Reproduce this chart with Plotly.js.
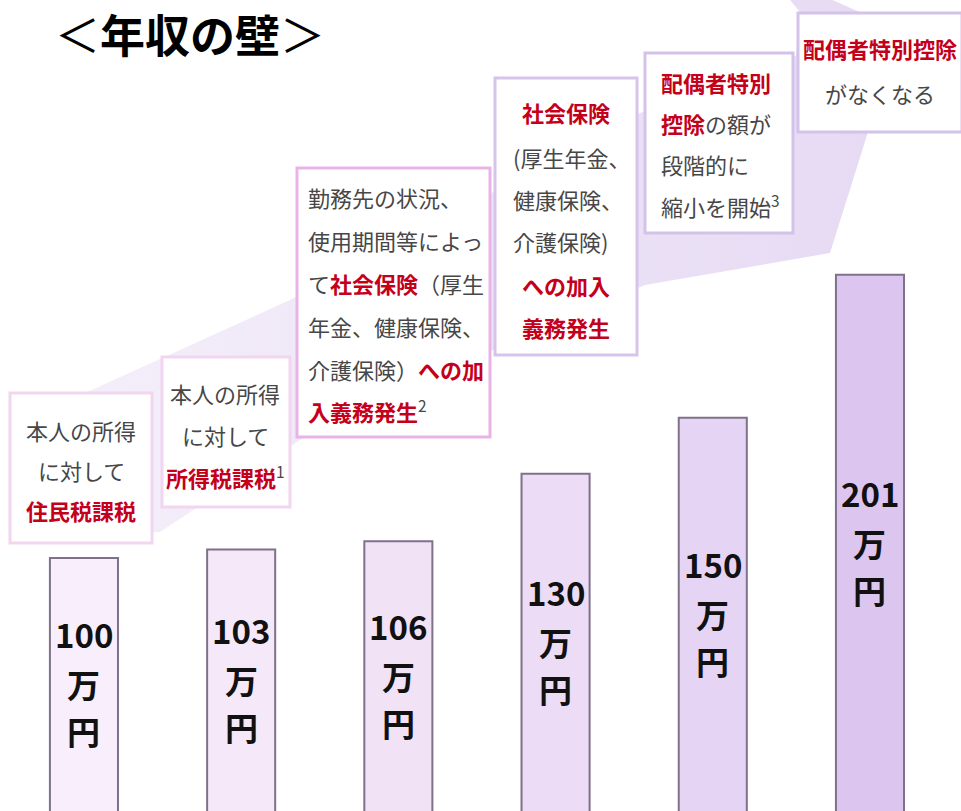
<!DOCTYPE html>
<html><head><meta charset="utf-8">
<script src="https://cdn.plot.ly/plotly-3.0.1.min.js"></script>
<style>html,body{margin:0;padding:0;background:#fff}#chart{width:961px;height:811px}</style>
</head><body><div id="chart"></div>
<script>
// ---- data ----
const wallCategories = ['100万円', '103万円', '106万円', '130万円', '150万円', '201万円'];
const incomes = [100, 103, 106, 130, 150, 201];
const unitLines = ['万', '円'];
const titleText = '＜<b>年収の壁</b>＞';

const RED = '#c4001a';
const R = s => `<span style="color:${RED}"><b>${s}</b></span>`;

const note1 = ['本人の所得', 'に対して', R('住民税課税')];
const note2 = ['本人の所得', 'に対して', R('所得税課税') + '<sup>1</sup>'];
const note3 = ['勤務先の状況、', '使用期間等によっ', 'て' + R('社会保険') + '（厚生', '年金、健康保険、', '介護保険）' + R('への加'), R('入義務発生') + '<sup>2</sup>'];
const note4 = [R('社会保険'), '(厚生年金、', '健康保険、', '介護保険)', R('への加入'), R('義務発生')];
const note5 = [R('配偶者特別'), R('控除') + 'の額が', '段階的に', '縮小を開始<sup>3</sup>'];
const note6 = [R('配偶者特別控除'), 'がなくなる'];
const notes = [note1, note2, note3, note4, note5, note6];

// ---- layout helpers ----
const W = 961, H = 811;
const PX = x => x / W, PY = y => 1 - y / H;
const X_MIN = -0.534, X_MAX = 5.579;
const Y_MIN = 9.8, Y_MAX = 298.9;
const DX = px => X_MIN + px / W * (X_MAX - X_MIN);
const DY = py => Y_MAX - py / H * (Y_MAX - Y_MIN);

const barColors = ['#f9eefb', '#f5e8f8', '#f1e2f6', '#ecdcf6', '#e6d4f4', '#dcc6f0'];

// note boxes: rect in px [x0,y0,x1,y1], per-line anchors and x, line ys, border colour
const boxes = [
  {r: [10, 393, 152, 543], ax: ['center'], tx: [81], ys: [430, 470, 510], bc: '#f2d6f0'},
  {r: [162, 357, 290, 507], ax: ['center'], tx: [225], ys: [393, 435, 476], bc: '#f2d6f0'},
  {r: [297, 168, 490, 437], ax: ['left'], tx: [306], ys: [197, 240, 283, 326, 369, 411], bc: '#eab3e7'},
  {r: [495, 78, 637, 355], ax: ['center', 'left', 'left', 'left', 'center', 'center'],
   tx: [566, 511, 511, 511, 566, 566], ys: [112, 157, 199, 241, 285, 327], bc: '#d6c4ea'},
  {r: [645, 53, 793, 233], ax: ['left'], tx: [659], ys: [82, 123, 164, 205], bc: '#d3c2e9'},
  {r: [798, 13, 962, 132], ax: ['center'], tx: [880], ys: [48, 93], bc: '#d3c2e9'}
];

// background arrow polygon (px)
const bandPts = [[40, 540], [160, 532], [300, 440], [493, 350], [645, 285], [830, 253],
  [900, 30], [765, -30], [800, 12], [796, 56], [640, 113], [493, 192], [290, 300], [85, 393], [40, 420], [40, 540]];

const band = {
  type: 'scatter', mode: 'lines', hoverinfo: 'skip',
  x: bandPts.map(p => DX(p[0])), y: bandPts.map(p => DY(p[1])),
  fill: 'toself', fillcolor: '#ece3f6', line: {width: 0, color: 'rgba(0,0,0,0)'},
  fillgradient: {type: 'horizontal', colorscale: [[0, '#f5effa'], [1, '#e6daf3']]}
};

const shapes = [];
boxes.forEach(b => shapes.push({
  type: 'rect', xref: 'paper', yref: 'paper',
  x0: PX(b.r[0]), x1: PX(b.r[2]), y0: PY(b.r[3]), y1: PY(b.r[1]),
  fillcolor: '#ffffff', line: {color: b.bc, width: 3}, layer: 'above'
}));

const annotations = [];
notes.forEach((lines, i) => {
  const b = boxes[i];
  lines.forEach((t, j) => {
    const ax = b.ax[j] || b.ax[0], tx = b.tx[j] || b.tx[0];
    annotations.push({
      xref: 'paper', yref: 'paper', x: PX(tx), y: PY(b.ys[j]),
      xanchor: ax, yanchor: 'middle', showarrow: false, text: t, align: ax,
      font: {family: 'Noto Sans CJK JP', size: 22, color: '#474747'}
    });
  });
});
const labelShifts = [50, 0, -47];
incomes.forEach((v, i) => {
  [String(v)].concat(unitLines).forEach((t, j) => annotations.push({
    xref: 'x', yref: 'y', x: i, y: (v + Y_MIN) / 2, yshift: labelShifts[j], showarrow: false,
    text: t, font: {family: 'Noto Sans CJK JP', size: 33, color: '#111111', weight: 'bold'}
  }));
});

const bars = {
  type: 'bar', x: incomes.map((_, i) => i), y: incomes, width: 0.433,
  customdata: wallCategories, hoverinfo: 'skip',
  marker: {color: barColors, line: {color: '#7f7189', width: 2}}
};

const layout = {
  width: W, height: H, margin: {l: 0, r: 0, t: 0, b: 0},
  paper_bgcolor: '#ffffff', plot_bgcolor: '#ffffff',
  showlegend: false,
  title: {text: titleText, x: PX(190), xanchor: 'center', y: PY(37), yanchor: 'middle',
    font: {family: 'Noto Sans CJK JP', size: 45, color: '#000000'}},
  xaxis: {range: [X_MIN, X_MAX], visible: false, fixedrange: true},
  yaxis: {range: [Y_MIN, Y_MAX], visible: false, fixedrange: true},
  shapes: shapes, annotations: annotations
};

Plotly.newPlot('chart', [band, bars], layout, {displayModeBar: false, staticPlot: true});
</script>
</body></html>
